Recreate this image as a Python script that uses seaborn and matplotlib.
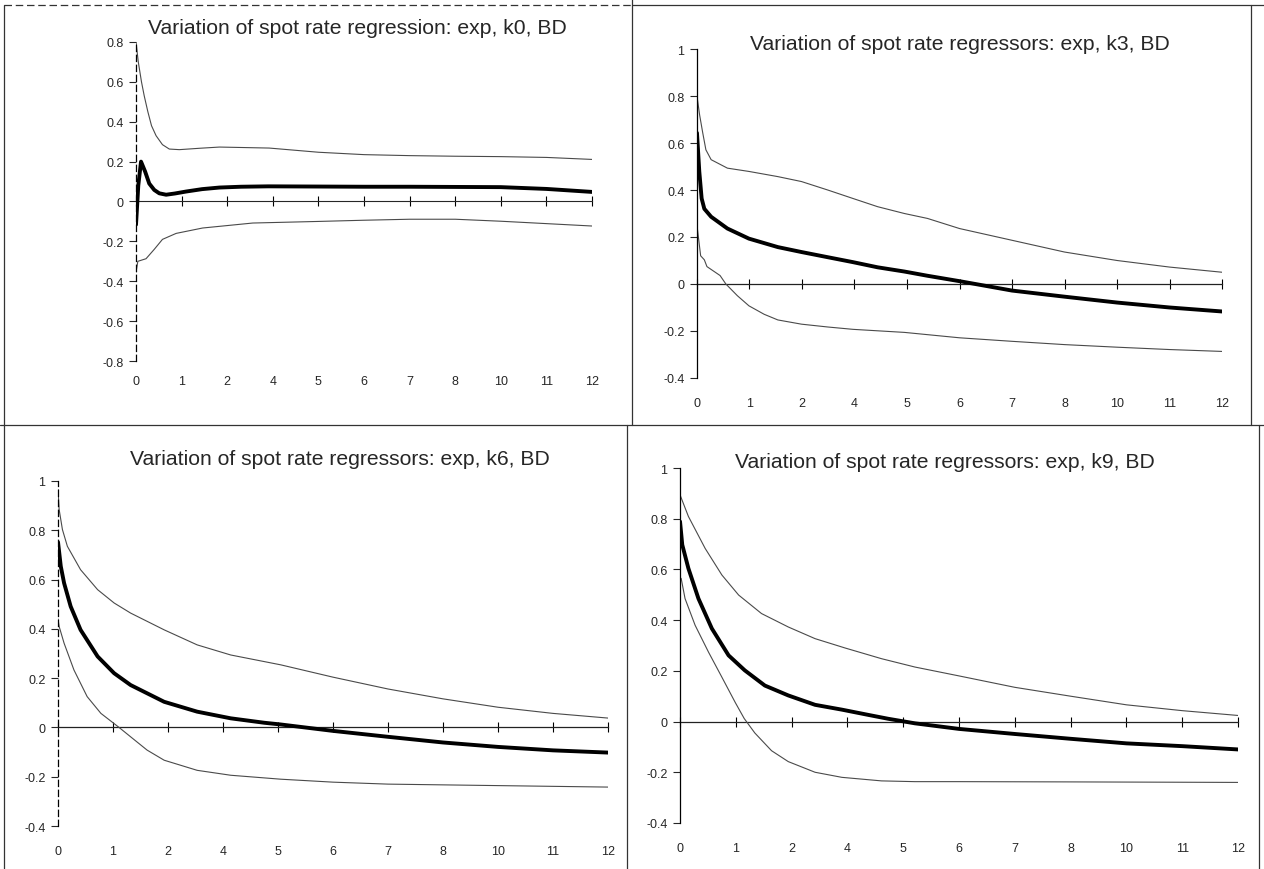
import numpy as np
import pandas as pd
import matplotlib
matplotlib.use("Agg")
import matplotlib.pyplot as plt
from matplotlib.lines import Line2D
import seaborn as sns

sns.set_style("white")
plt.rcParams['font.family'] = ['Liberation Sans', 'DejaVu Sans']

# category labels of the x axis (evenly spaced positions 0..10)
x_labels = ['0', '1', '2', '4', '5', '6', '7', '8', '10', '11', '12']

titles = ["Variation of spot rate regression: exp, k0, BD",
          "Variation of spot rate regressors: exp, k3, BD",
          "Variation of spot rate regressors: exp, k6, BD",
          "Variation of spot rate regressors: exp, k9, BD"]

# ---- panel k0 ----
k0_mid_x = [0, 0.05, 0.11, 0.2, 0.29, 0.4, 0.51, 0.66, 0.85, 1.1, 1.45, 1.83, 2.3, 2.9, 4, 5, 6, 7, 8, 9, 10]
k0_mid_y = [-0.116, 0.08, 0.2, 0.15, 0.09, 0.058, 0.041, 0.034, 0.04, 0.05, 0.062, 0.07, 0.074, 0.076, 0.075, 0.074, 0.074, 0.073, 0.072, 0.063, 0.048]
k0_up_x = [0, 0.05, 0.12, 0.18, 0.26, 0.34, 0.44, 0.58, 0.73, 0.95, 1.4, 1.83, 2.92, 4, 5, 6, 7, 8, 9, 10]
k0_up_y = [0.8, 0.7, 0.6, 0.53, 0.45, 0.38, 0.33, 0.285, 0.263, 0.26, 0.267, 0.273, 0.268, 0.247, 0.235, 0.23, 0.227, 0.225, 0.221, 0.211]
k0_lo_x = [0, 0.04, 0.22, 0.4, 0.58, 0.88, 1.46, 2.56, 4, 5, 6, 7, 8, 9, 10]
k0_lo_y = [-0.355, -0.30, -0.287, -0.24, -0.19, -0.16, -0.133, -0.108, -0.1, -0.094, -0.089, -0.089, -0.099, -0.111, -0.123]

# ---- panel k3 ----
k3_mid_x = [0, 0.044, 0.089, 0.14, 0.27, 0.58, 0.99, 1.54, 1.99, 2.49, 2.97, 3.44, 3.95, 4.39, 5, 5.5, 6, 7, 8, 9, 10]
k3_mid_y = [0.643, 0.479, 0.364, 0.32, 0.286, 0.236, 0.193, 0.157, 0.136, 0.114, 0.093, 0.071, 0.053, 0.035, 0.012, -0.008, -0.028, -0.054, -0.079, -0.1, -0.117]
k3_up_x = [0, 0.05, 0.11, 0.17, 0.27, 0.58, 0.99, 1.54, 1.99, 2.49, 2.97, 3.44, 3.95, 4.39, 5, 6, 7, 8, 9, 10]
k3_up_y = [0.8, 0.72, 0.643, 0.571, 0.529, 0.493, 0.479, 0.457, 0.436, 0.4, 0.364, 0.329, 0.3, 0.279, 0.236, 0.186, 0.136, 0.1, 0.072, 0.05]
k3_lo_x = [0, 0.07, 0.14, 0.19, 0.44, 0.55, 0.77, 0.99, 1.28, 1.54, 1.99, 2.49, 2.97, 3.95, 5, 6, 7, 8, 9, 10]
k3_lo_y = [0.25, 0.12, 0.103, 0.074, 0.036, 0.0, -0.05, -0.093, -0.129, -0.153, -0.171, -0.183, -0.193, -0.206, -0.229, -0.244, -0.258, -0.269, -0.279, -0.287]

# ---- panel k6 ----
k6_mid_x = [0, 0.05, 0.11, 0.23, 0.41, 0.72, 1.02, 1.32, 1.93, 2.53, 3.14, 3.75, 4.05, 5, 6, 7, 8, 9, 10]
k6_mid_y = [0.752, 0.654, 0.586, 0.491, 0.396, 0.288, 0.22, 0.172, 0.104, 0.064, 0.037, 0.019, 0.012, -0.014, -0.038, -0.061, -0.079, -0.093, -0.102]
k6_up_x = [0, 0.02, 0.08, 0.17, 0.41, 0.72, 1.02, 1.32, 1.93, 2.53, 3.14, 4.05, 5, 6, 7, 8, 9, 10]
k6_up_y = [0.966, 0.885, 0.803, 0.735, 0.64, 0.559, 0.505, 0.464, 0.396, 0.335, 0.294, 0.254, 0.204, 0.156, 0.116, 0.082, 0.057, 0.038]
k6_lo_x = [0, 0.02, 0.11, 0.29, 0.53, 0.78, 1.11, 1.32, 1.62, 1.93, 2.53, 3.14, 4.05, 5, 6, 8, 10]
k6_lo_y = [0.44, 0.41, 0.342, 0.233, 0.125, 0.057, 0.0, -0.038, -0.092, -0.133, -0.174, -0.194, -0.21, -0.222, -0.23, -0.236, -0.242]

# ---- panel k9 ----
k9_mid_x = [0, 0.04, 0.15, 0.33, 0.57, 0.87, 1.16, 1.52, 1.94, 2.42, 2.9, 3.38, 3.73, 4.21, 5, 6, 7, 8, 9, 10]
k9_mid_y = [0.789, 0.697, 0.604, 0.485, 0.367, 0.261, 0.202, 0.142, 0.103, 0.066, 0.047, 0.026, 0.011, -0.007, -0.029, -0.049, -0.068, -0.086, -0.097, -0.11]
k9_up_x = [0, 0.15, 0.45, 0.75, 1.05, 1.46, 1.94, 2.42, 2.96, 3.61, 4.21, 5, 6, 7, 8, 9, 10]
k9_up_y = [0.894, 0.809, 0.683, 0.578, 0.499, 0.426, 0.373, 0.327, 0.29, 0.248, 0.215, 0.18, 0.135, 0.1, 0.066, 0.043, 0.024]
k9_lo_x = [0.02, 0.09, 0.27, 0.51, 0.75, 0.99, 1.15, 1.34, 1.64, 1.94, 2.42, 2.9, 3.61, 4.21, 5, 7, 10]
k9_lo_y = [0.565, 0.485, 0.38, 0.274, 0.175, 0.075, 0.012, -0.045, -0.115, -0.158, -0.2, -0.22, -0.234, -0.237, -0.237, -0.238, -0.24]

panels = [
    dict(mid=(k0_mid_x, k0_mid_y), up=(k0_up_x, k0_up_y), lo=(k0_lo_x, k0_lo_y),
         ylim=(-0.8, 0.8), yticks=[-0.8, -0.6, -0.4, -0.2, 0, 0.2, 0.4, 0.6, 0.8],
         rect=[0.1076, 0.5839, 0.3608, 0.3667], title_xy=(357, 29), dashed_axis=True, lab_pad=10),
    dict(mid=(k3_mid_x, k3_mid_y), up=(k3_up_x, k3_up_y), lo=(k3_lo_x, k3_lo_y),
         ylim=(-0.4, 1.0), yticks=[-0.4, -0.2, 0, 0.2, 0.4, 0.6, 0.8, 1],
         rect=[0.5514, 0.5644, 0.4154, 0.3781], title_xy=(960, 45), dashed_axis=False, lab_pad=14),
    dict(mid=(k6_mid_x, k6_mid_y), up=(k6_up_x, k6_up_y), lo=(k6_lo_x, k6_lo_y),
         ylim=(-0.4, 1.0), yticks=[-0.4, -0.2, 0, 0.2, 0.4, 0.6, 0.8, 1],
         rect=[0.0459, 0.0494, 0.4351, 0.3966], title_xy=(340, 460), dashed_axis=True, lab_pad=14),
    dict(mid=(k9_mid_x, k9_mid_y), up=(k9_up_x, k9_up_y), lo=(k9_lo_x, k9_lo_y),
         ylim=(-0.4, 1.0), yticks=[-0.4, -0.2, 0, 0.2, 0.4, 0.6, 0.8, 1],
         rect=[0.5380, 0.0529, 0.4415, 0.4080], title_xy=(945, 463), dashed_axis=False, lab_pad=14),
]

W, H = 1264, 870
fig = plt.figure(figsize=(W / 100, H / 100), dpi=100)
fig.patch.set_facecolor('white')

for p, title in zip(panels, titles):
    ax = fig.add_axes(p['rect'])
    ax.set_facecolor('white')
    ax.patch.set_alpha(0)
    for key, lw, col in [('up', 0.8, '#4a4a4a'), ('lo', 0.8, '#4a4a4a'), ('mid', 2.8, '#000000')]:
        xs, ys = p[key]
        df = pd.DataFrame({'x': xs, 'y': ys})
        sns.lineplot(data=df, x='x', y='y', ax=ax, color=col, lw=lw, sort=False,
                     estimator=None, legend=False)
    ax.set_xlim(0, 10)
    ax.set_ylim(*p['ylim'])
    ax.set_xlabel('')
    ax.set_ylabel('')
    ax.set_xticks(range(len(x_labels)))
    ax.set_xticklabels(x_labels, fontsize=9)
    ax.tick_params(axis='x', length=0, pad=p['lab_pad'])
    ax.set_yticks(p['yticks'])
    ax.set_yticklabels([f"{v:g}" for v in p['yticks']], fontsize=9)
    ax.tick_params(axis='y', direction='out', length=5, width=0.8, pad=4, left=True)
    for s in ['top', 'right', 'bottom']:
        ax.spines[s].set_visible(False)
    ax.spines['left'].set_color('black')
    ax.spines['left'].set_linewidth(0.9)
    if p['dashed_axis']:
        ax.spines['left'].set_linestyle((0, (5, 3)))
    # zero line with cross ticks
    y0, y1 = p['ylim']
    frac = (0 - y0) / (y1 - y0)
    sec = ax.secondary_xaxis(frac)
    sec.set_xticks(range(len(x_labels)))
    sec.set_xticklabels([])
    sec.tick_params(direction='inout', length=7, width=0.8, color='black')
    sec.spines['bottom'].set_linewidth(0.9)
    sec.spines['bottom'].set_color('#222222')
    fig.text(p['title_xy'][0] / W, 1 - p['title_xy'][1] / H, title,
             ha='center', va='center', fontsize=15.2)

# panel frame lines
def fline(x0, y0, x1, y1, **kw):
    fig.add_artist(Line2D([x0 / W, x1 / W], [1 - y0 / H, 1 - y1 / H],
                          color='#333333', lw=0.9, **kw))

fline(4, 6, 632, 6, linestyle=(0, (6, 3)))
fline(4, 6, 4, 870)
fline(632, 0, 632, 426)
fline(627, 426, 627, 870)
fline(0, 426, 1264, 426)
fline(632, 6, 1264, 6)
fline(1251, 6, 1251, 426)
fline(1259, 426, 1259, 870)

fig.savefig('out.png', dpi=100)
